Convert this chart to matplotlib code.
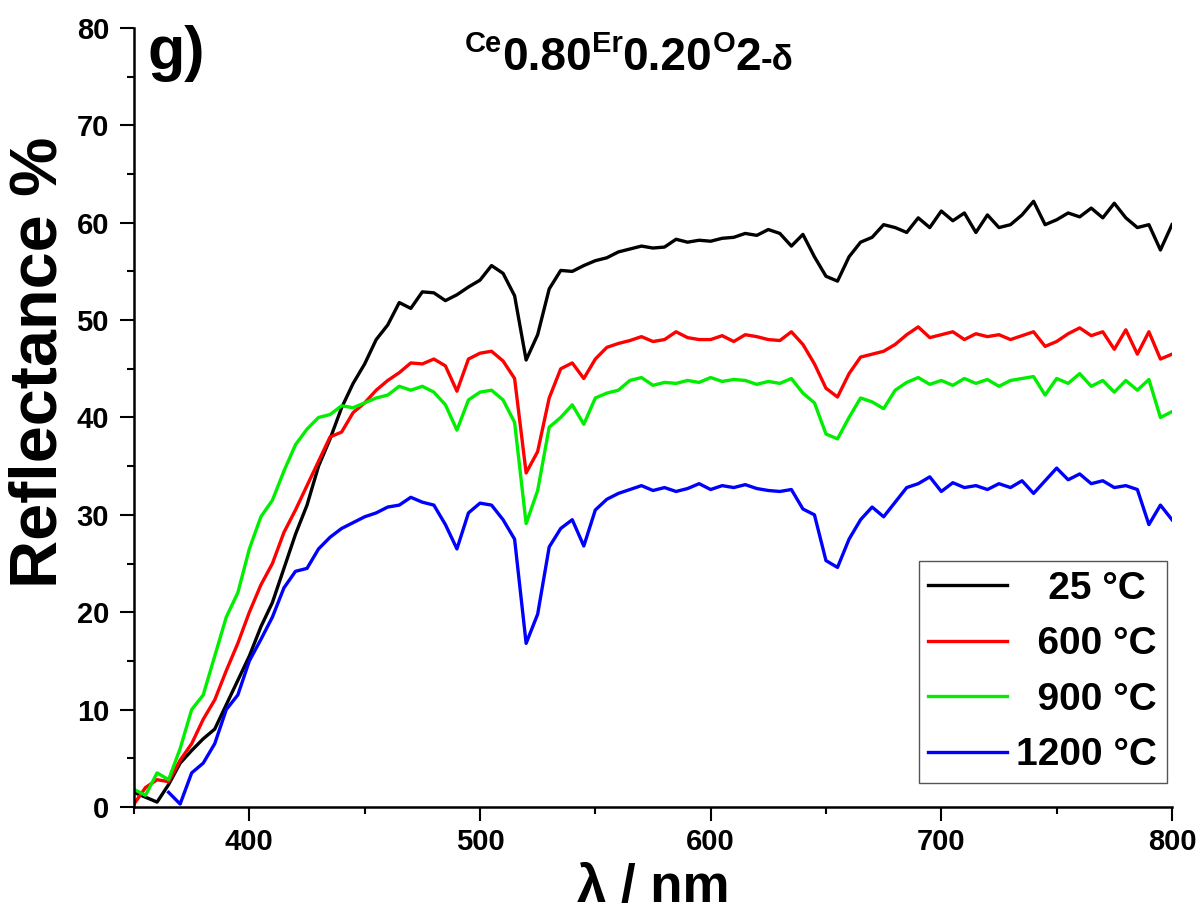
import numpy as np
import matplotlib
matplotlib.use("Agg")
import matplotlib.pyplot as plt
from matplotlib.ticker import MultipleLocator

plt.rcParams['font.family'] = ['Liberation Sans', 'DejaVu Sans']
plt.rcParams['font.weight'] = 'bold'

# wavelength grid, nm
wl = np.arange(350, 801, 5)

r_25 = [1.5, 1.0, 0.5, 2.3, 4.5, 5.8, 7.0, 8.0, 10.5, 13.0,
        15.5, 18.5, 21.0, 24.5, 28.0, 31.0, 35.0, 37.8, 41.0, 43.5,
        45.5, 48.0, 49.5, 51.8, 51.2, 52.9, 52.8, 52.0, 52.6, 53.4,
        54.1, 55.6, 54.8, 52.5, 45.9, 48.5, 53.2, 55.1, 55.0, 55.6,
        56.1, 56.4, 57.0, 57.3, 57.6, 57.4, 57.5, 58.3, 58.0, 58.2,
        58.1, 58.4, 58.5, 58.9, 58.7, 59.3, 58.9, 57.6, 58.8, 56.5,
        54.5, 54.0, 56.5, 58.0, 58.5, 59.8, 59.5, 59.0, 60.5, 59.5,
        61.2, 60.2, 61.0, 59.0, 60.8, 59.5, 59.8, 60.8, 62.2, 59.8,
        60.3, 61.0, 60.6, 61.5, 60.5, 62.0, 60.5, 59.5, 59.8, 57.2,
        59.8]

r_600 = [0.3, 2.0, 2.8, 2.6, 4.8, 6.5, 9.0, 11.0, 14.0, 16.8,
         20.0, 22.8, 25.0, 28.2, 30.5, 33.0, 35.5, 38.0, 38.5, 40.5,
         41.5, 42.8, 43.8, 44.6, 45.6, 45.5, 46.0, 45.3, 42.7, 46.0,
         46.6, 46.8, 45.8, 44.0, 34.3, 36.5, 42.0, 45.0, 45.6, 44.0,
         46.0, 47.2, 47.6, 47.9, 48.3, 47.8, 48.0, 48.8, 48.2, 48.0,
         48.0, 48.4, 47.8, 48.5, 48.3, 48.0, 47.9, 48.8, 47.5, 45.5,
         43.0, 42.1, 44.5, 46.2, 46.5, 46.8, 47.5, 48.5, 49.3, 48.2,
         48.5, 48.8, 48.0, 48.6, 48.3, 48.5, 48.0, 48.4, 48.8, 47.3,
         47.8, 48.6, 49.2, 48.4, 48.8, 47.0, 49.0, 46.5, 48.8, 46.0,
         46.5]

r_900 = [1.8, 1.2, 3.5, 2.8, 6.0, 10.0, 11.5, 15.5, 19.5, 22.0,
         26.5, 29.8, 31.5, 34.5, 37.2, 38.8, 40.0, 40.3, 41.2, 41.0,
         41.5, 42.0, 42.3, 43.2, 42.8, 43.2, 42.6, 41.3, 38.7, 41.8,
         42.6, 42.8, 41.8, 39.5, 29.1, 32.5, 39.0, 40.0, 41.3, 39.3,
         42.0, 42.5, 42.8, 43.8, 44.1, 43.3, 43.6, 43.5, 43.8, 43.6,
         44.1, 43.7, 43.9, 43.8, 43.4, 43.7, 43.5, 44.0, 42.5, 41.5,
         38.3, 37.8, 40.0, 42.0, 41.6, 40.9, 42.8, 43.6, 44.1, 43.4,
         43.8, 43.3, 44.0, 43.5, 43.9, 43.2, 43.8, 44.0, 44.2, 42.3,
         44.0, 43.5, 44.5, 43.2, 43.8, 42.6, 43.8, 42.8, 43.9, 40.0,
         40.6]

# 1200 C curve starts at 365 nm
wl_1200 = np.arange(365, 801, 5)
r_1200 = [1.5, 0.3, 3.5, 4.5, 6.5, 10.0, 11.5,
          15.0, 17.2, 19.5, 22.5, 24.2, 24.5, 26.5, 27.7, 28.6, 29.2,
          29.8, 30.2, 30.8, 31.0, 31.8, 31.3, 31.0, 29.0, 26.5, 30.2,
          31.2, 31.0, 29.5, 27.5, 16.8, 19.8, 26.7, 28.6, 29.5, 26.8,
          30.5, 31.6, 32.2, 32.6, 33.0, 32.5, 32.8, 32.4, 32.7, 33.2,
          32.6, 33.0, 32.8, 33.1, 32.7, 32.5, 32.4, 32.6, 30.6, 30.0,
          25.3, 24.6, 27.5, 29.5, 30.8, 29.8, 31.3, 32.8, 33.2, 33.9,
          32.4, 33.3, 32.8, 33.0, 32.6, 33.2, 32.8, 33.5, 32.2, 33.5,
          34.8, 33.6, 34.2, 33.2, 33.5, 32.8, 33.0, 32.6, 29.0, 31.0,
          29.5]

labels = ['   25 °C', '  600 °C', '  900 °C', '1200 °C']
colors = ['black', '#ff0000', '#00ee00', '#0000ff']

fig = plt.figure(figsize=(12.03, 9.11), dpi=100)
ax = fig.add_axes([0.1114, 0.1142, 0.8628, 0.8551])

ax.plot(wl, r_25, color=colors[0], lw=2.4, label=labels[0])
ax.plot(wl, r_600, color=colors[1], lw=2.4, label=labels[1])
ax.plot(wl, r_900, color=colors[2], lw=2.4, label=labels[2])
ax.plot(wl_1200, r_1200, color=colors[3], lw=2.4, label=labels[3])

ax.set_xlim(350, 800)
ax.set_ylim(0, 80)
ax.xaxis.set_major_locator(MultipleLocator(100))
ax.xaxis.set_minor_locator(MultipleLocator(50))
ax.yaxis.set_major_locator(MultipleLocator(10))
ax.yaxis.set_minor_locator(MultipleLocator(5))

for s in ['top', 'right']:
    ax.spines[s].set_visible(False)
for s in ['left', 'bottom']:
    ax.spines[s].set_linewidth(1.8)

ax.tick_params(which='major', direction='out', length=10, width=1.5, labelsize=21)
ax.tick_params(which='minor', direction='out', length=5, width=1.5)
ax.tick_params(axis='x', which='major', pad=5)
ax.tick_params(axis='y', which='major', pad=8)
for t in ax.get_xticklabels() + ax.get_yticklabels():
    t.set_fontweight('bold')

ax.set_xlabel('λ / nm', fontsize=38, fontweight='bold')
ax.xaxis.set_label_coords(0.5, -0.072)
ax.xaxis.label.set_va('top')
ax.set_ylabel('Reflectance %', fontsize=48, fontweight='bold')
ax.yaxis.set_label_coords(-0.061, 0.571)

leg = ax.legend(loc='lower right', bbox_to_anchor=(0.9952, 0.0308), borderaxespad=0,
                fontsize=28, handlelength=2.03, handletextpad=0.23, labelspacing=0.5,
                borderpad=0.25, fancybox=False, framealpha=1, edgecolor='#555555')
leg.get_frame().set_linewidth(1.0)
for t in leg.get_texts():
    t.set_fontweight('bold')

fig.text(148 / 1203, 1 - 25 / 911, 'g)', fontsize=44, fontweight='bold', va='top', ha='left')

# formula title built from pieces, each placed after the previous one
prev = fig.text(465 / 1203, 1 - 52 / 911, 'Ce', fontsize=21, fontweight='bold', va='baseline')
pieces = [('0.80', 33, -15.5), ('Er', 21, 15.5), ('0.20', 33, -15.5),
          ('O', 21, 15.5), ('2', 33, -15.5), ('-δ', 25, 1.5)]
for txt, fs, dy in pieces:
    prev = ax.annotate(txt, xy=(1, 0), xycoords=prev, xytext=(0, dy),
                       textcoords='offset points', fontsize=fs, fontweight='bold',
                       va='bottom', ha='left', annotation_clip=False)

fig.savefig('out.png', dpi=100)
